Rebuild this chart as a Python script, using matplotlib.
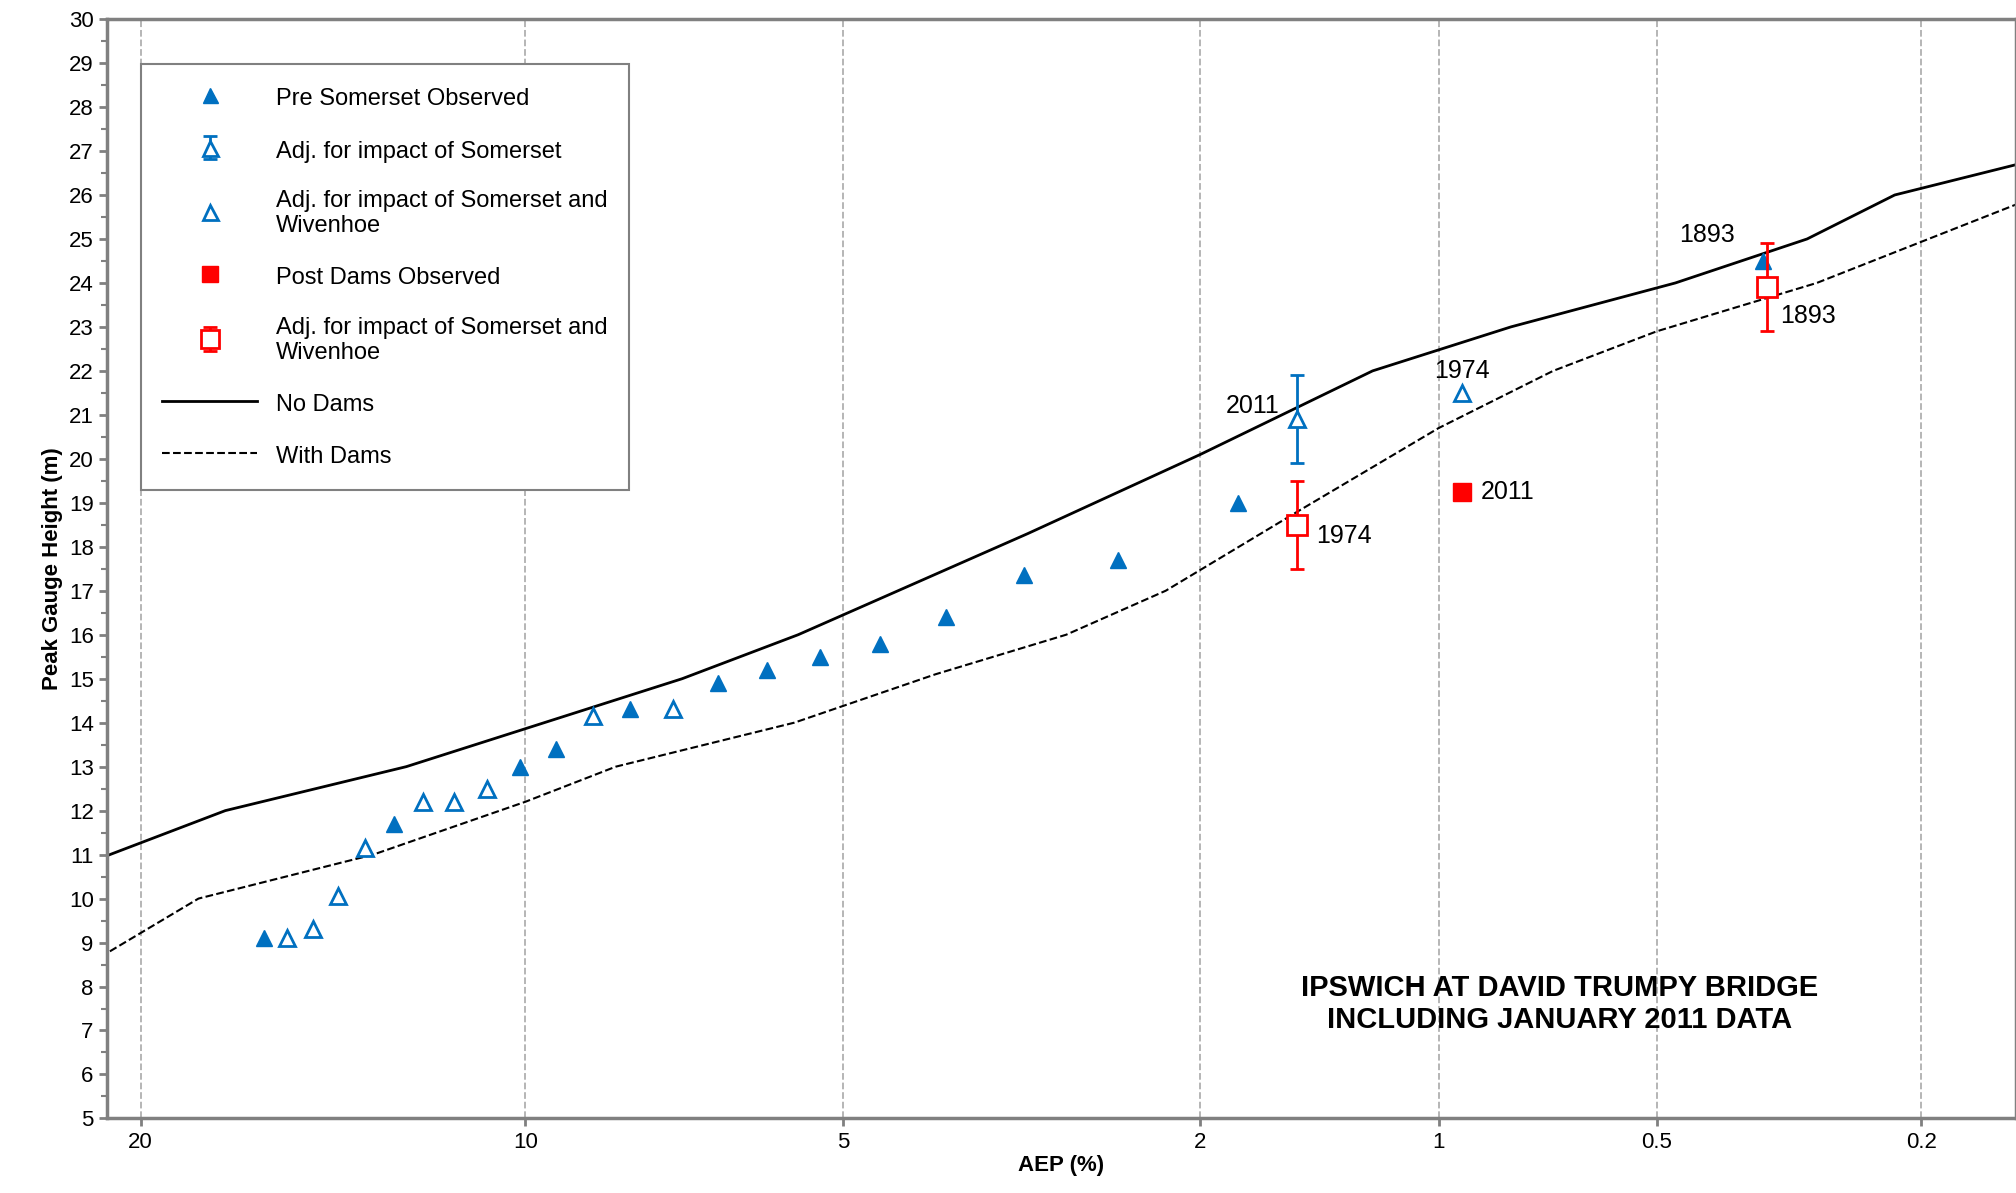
import numpy as np
import matplotlib.pyplot as plt
from statistics import NormalDist

plt.rcParams['font.family'] = ['Liberation Sans', 'DejaVu Sans']

_nd = NormalDist()

def fwd(p):
    p = np.clip(np.asarray(p, dtype=float), 1e-6, 99.9999)
    return np.array([_nd.inv_cdf(v / 100.0) for v in np.ravel(p)]).reshape(np.shape(p))

def inv(z):
    z = np.asarray(z, dtype=float)
    return np.array([100.0 * _nd.cdf(v) for v in np.ravel(z)]).reshape(np.shape(z))

# Design curves (AEP %, peak height m)
nodams_aep = [21.0, 17.4, 12.6, 7.2, 5.55, 3.17, 2.0, 1.22, 0.80, 0.47, 0.30, 0.22, 0.14]
nodams_h = [11, 12, 13, 15, 16, 18.3, 20.1, 22, 23, 24, 25, 26, 26.7]
dams_aep = [21.0, 18.2, 13.4, 10.0, 8.3, 5.6, 4.0, 2.87, 2.2, 1.52, 1.0, 0.70, 0.50, 0.29, 0.14]
dams_h = [8.8, 10, 11, 12.2, 13, 14, 15.1, 16, 17, 18.8, 20.7, 22, 22.9, 24, 25.8]

# Observed
pre_aep = [16.3, 12.9, 10.1, 9.4, 8.05, 6.65, 5.96, 5.27, 4.58, 3.9, 3.2, 2.5, 1.8, 0.35]
pre_h = [9.1, 11.7, 13, 13.4, 14.3, 14.9, 15.2, 15.5, 15.8, 16.4, 17.35, 17.7, 19, 24.5]
adjsw_aep = [15.65, 14.95, 14.3, 13.6, 12.2, 11.5, 10.8, 8.7, 7.35, 0.93]
adjsw_h = [9.1, 9.3, 10.05, 11.15, 12.2, 12.2, 12.5, 14.15, 14.3, 21.5]
adjs_aep = [1.52]
adjs_h = [20.9]
post_aep = [0.93]
post_h = [19.25]
adjpost_aep = [1.52, 0.345]
adjpost_h = [18.5, 23.9]
err = 1.0

blue = '#0070c0'
red = '#ff0000'

fig = plt.figure(figsize=(20.16, 11.93), dpi=100)
ax = fig.add_axes([0.053, 0.0625, 0.947, 0.9215])
ax.set_xscale('function', functions=(fwd, inv))
ax.set_xlim(21.1, 0.141)
ax.set_ylim(5, 30)

ax.plot(nodams_aep, nodams_h, 'k-', lw=2, label='No Dams')
ax.plot(dams_aep, dams_h, 'k--', lw=1.5, label='With Dams')
h1, = ax.plot(pre_aep, pre_h, '^', color=blue, ms=12, ls='none')
h2 = ax.errorbar(adjs_aep, adjs_h, yerr=err, fmt='^', mfc='white', mec=blue, mew=2, ms=12,
                 ecolor=blue, elinewidth=2, capsize=5)
h3, = ax.plot(adjsw_aep, adjsw_h, '^', mfc='white', mec=blue, mew=2, ms=12, ls='none')
h4, = ax.plot(post_aep, post_h, 's', color=red, ms=13, ls='none')
h5 = ax.errorbar(adjpost_aep, adjpost_h, yerr=err, fmt='s', mfc='white', mec=red, mew=2, ms=14,
                 ecolor=red, elinewidth=2, capsize=5)
lines = ax.get_lines()

fs = 18
ax.text(1.60, 21.2, '2011', fontsize=fs, ha='right', va='center')
ax.text(1.44, 18.25, '1974', fontsize=fs, ha='left', va='center')
ax.text(0.93, 22.0, '1974', fontsize=fs, ha='center', va='center')
ax.text(0.88, 19.25, '2011', fontsize=fs, ha='left', va='center')
ax.text(0.385, 25.1, '1893', fontsize=fs, ha='right', va='center')
ax.text(0.33, 23.25, '1893', fontsize=fs, ha='left', va='center')
ax.text(0.685, 7.6, 'IPSWICH AT DAVID TRUMPY BRIDGE\nINCLUDING JANUARY 2011 DATA',
        fontsize=21, fontweight='bold', ha='center', va='center')

ticks = [20, 10, 5, 2, 1, 0.5, 0.2]
ax.set_xticks(ticks)
ax.set_xticklabels([str(t) for t in ticks], fontsize=16)
ax.xaxis.set_minor_locator(plt.NullLocator())
ax.set_yticks(range(5, 31))
ax.set_yticklabels([str(v) for v in range(5, 31)], fontsize=16)
ax.set_yticks(np.arange(5, 30, 0.5), minor=True)
ax.grid(axis='x', ls='--', color='#b0b0b0', lw=1.3)
for s in ax.spines.values():
    s.set_color('#808080')
    s.set_linewidth(2.5)
ax.tick_params(axis='both', colors='#808080', labelcolor='black', width=2, length=6)
ax.tick_params(axis='y', which='minor', colors='#808080', width=1.5, length=4)
ax.set_xlabel('AEP (%)', fontsize=16, fontweight='bold', labelpad=2)
ax.set_ylabel('Peak Gauge Height (m)', fontsize=16, fontweight='bold')

leg = ax.legend([h1, h2, h3, h4, h5, lines[0], lines[1]],
                ['Pre Somerset Observed', 'Adj. for impact of Somerset',
                 'Adj. for impact of Somerset and\nWivenhoe', 'Post Dams Observed',
                 'Adj. for impact of Somerset and\nWivenhoe', 'No Dams', 'With Dams'],
                loc='upper left', bbox_to_anchor=(0.018, 0.959), borderaxespad=0,
                fontsize=17, frameon=True, fancybox=False, edgecolor='#808080',
                labelspacing=1.15, borderpad=0.9, handlelength=4, handleheight=1.2,
                markerscale=0.9, framealpha=1)
leg.get_frame().set_linewidth(1.5)
leg.set_zorder(10)

fig.savefig('out.png', dpi=100)
